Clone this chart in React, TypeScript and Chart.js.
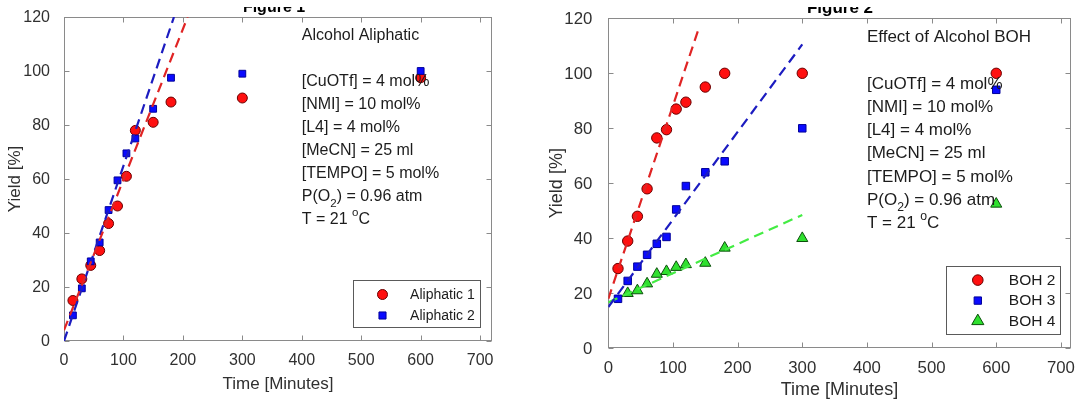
import React, { useEffect, useRef } from "react";
import { Chart, registerables } from "chart.js";
Chart.register(...registerables);

const FONT = '"Liberation Sans", Arial, Helvetica, sans-serif';
const TEXT = "#1c1c1c";
const AXIS_TEXT = "#303030";
const BOX = "#8a8a8a";

// ---------------- Figure 1 data ----------------
const fig1Title = "Figure 1";
const fig1Time = [15, 30, 45, 60, 75, 90, 105, 120, 150, 180, 300, 600];
const aliphatic1 = [15, 23, 28, 33.5, 43.5, 50, 61, 78, 81, 88.5, 90, 97.5];
const aliphatic2 = [9.5, 19.5, 29.5, 36.5, 48.5, 59.5, 69.5, 75, 86, 97.5, 99, 100];
const fitAliphatic1X = [0, 208];
const fitAliphatic1Y = [4, 120];
const fitAliphatic2X = [0, 185];
const fitAliphatic2Y = [0, 120];
const fig1Labels = ["Aliphatic 1", "Aliphatic 2"];
const fig1Notes = [
  "Alcohol Aliphatic",
  "",
  "[CuOTf] = 4 mol%",
  "[NMI] = 10 mol%",
  "[L4] = 4 mol%",
  "[MeCN] = 25 ml",
  "[TEMPO] = 5 mol%",
  "P(O_{2}) = 0.96 atm",
  "T = 21 ^{o}C",
];

// ---------------- Figure 2 data ----------------
const fig2Title = "Figure 2";
const fig2Time = [15, 30, 45, 60, 75, 90, 105, 120, 150, 180, 300, 600];
const boh2 = [29, 39, 48, 58, 76.5, 79.5, 87, 89.5, 95, 100, 100, 100];
const boh3 = [18, 24.5, 29.7, 34, 38, 40.5, 50.5, 59, 64, 68, 80, 94];
const boh4Time = [30, 45, 60, 75, 90, 105, 120, 150, 180, 300, 600];
const boh4 = [20, 21, 23.5, 27, 28, 29.5, 30.5, 31, 36.5, 40, 52.5];
const fitBoh2X = [0, 140];
const fitBoh2Y = [18, 116.4];
const fitBoh3X = [0, 300];
const fitBoh3Y = [15, 110.5];
const fitBoh4X = [0, 300];
const fitBoh4Y = [16.7, 48.5];
const fig2Labels = ["BOH 2", "BOH 3", "BOH 4"];
const fig2Notes = [
  "Effect of Alcohol BOH",
  "",
  "[CuOTf] = 4 mol%",
  "[NMI] = 10 mol%",
  "[L4] = 4 mol%",
  "[MeCN] = 25 ml",
  "[TEMPO] = 5 mol%",
  "P(O_{2}) = 0.96 atm",
  "T = 21 ^{o}C",
];

const xAxisTitle = "Time [Minutes]";
const yAxisTitle = "Yield [%]";
const xStep = 100;
const yStep = 20;

// ---------------- styles ----------------
const RED = { style: "circle", fill: "#ff1010", edge: "#6a0000" };
const BLUE = { style: "rect", fill: "#0a0aff", edge: "#00009a" };
const GREEN = { style: "triangle", fill: "#2fe02f", edge: "#0b4f0b" };

type Seg = { t: string; s: number };
function parseTex(str: string): Seg[] {
  const out: Seg[] = [];
  const re = /([_^])\{([^}]*)\}/g;
  let last = 0;
  let m: RegExpExecArray | null;
  while ((m = re.exec(str))) {
    if (m.index > last) out.push({ t: str.slice(last, m.index), s: 0 });
    out.push({ t: m[2], s: m[1] === "_" ? -1 : 1 });
    last = re.lastIndex;
  }
  if (last < str.length) out.push({ t: str.slice(last), s: 0 });
  return out;
}

function drawMarker(ctx: CanvasRenderingContext2D, style: string, x: number, y: number, r: number, fill: string, edge: string) {
  ctx.beginPath();
  if (style === "circle") {
    ctx.arc(x, y, r, 0, Math.PI * 2);
  } else if (style === "rect") {
    const s = r * Math.SQRT1_2;
    ctx.rect(x - s, y - s, 2 * s, 2 * s);
  } else {
    let a = 0;
    ctx.moveTo(x + Math.sin(a) * r, y - Math.cos(a) * r);
    a += (2 * Math.PI) / 3;
    ctx.lineTo(x + Math.sin(a) * r, y - Math.cos(a) * r);
    a += (2 * Math.PI) / 3;
    ctx.lineTo(x + Math.sin(a) * r, y - Math.cos(a) * r);
    ctx.closePath();
  }
  ctx.fillStyle = fill;
  ctx.fill();
  ctx.lineWidth = 1;
  ctx.strokeStyle = edge;
  ctx.stroke();
}

function makeDecor(spec: any) {
  return {
    id: "decor",
    beforeDatasetsDraw(chart: any) {
      const { ctx, chartArea: a, scales } = chart;
      const xs = scales.x;
      const ys = scales.y;
      ctx.save();
      ctx.strokeStyle = BOX;
      ctx.lineWidth = 1;
      const L = Math.round(a.left) + 0.5;
      const R = Math.round(a.right) - 0.5;
      const T = Math.round(a.top) + 0.5;
      const B = Math.round(a.bottom) - 0.5;
      ctx.strokeRect(L, T, R - L, B - T);
      ctx.beginPath();
      xs.ticks.forEach((t: any) => {
        const px = Math.round(xs.getPixelForValue(t.value)) + 0.5;
        ctx.moveTo(px, B);
        ctx.lineTo(px, B - 5);
        ctx.moveTo(px, T);
        ctx.lineTo(px, T + 5);
      });
      ys.ticks.forEach((t: any) => {
        const py = Math.round(ys.getPixelForValue(t.value)) + 0.5;
        ctx.moveTo(L, py);
        ctx.lineTo(L + 5, py);
        ctx.moveTo(R, py);
        ctx.lineTo(R - 5, py);
      });
      ctx.stroke();
      ctx.restore();
    },
    afterDatasetsDraw(chart: any) {
      const { ctx, chartArea: a, scales } = chart;
      const xs = scales.x;
      const ys = scales.y;
      ctx.save();
      // annotation text
      const x0 = xs.getPixelForValue(spec.noteX);
      const y0 = ys.getPixelForValue(spec.noteY);
      ctx.fillStyle = TEXT;
      ctx.textAlign = "left";
      ctx.textBaseline = "alphabetic";
      spec.notes.forEach((line: string, i: number) => {
        const by = y0 + i * spec.noteStep;
        let cx = x0;
        parseTex(line).forEach((seg) => {
          if (seg.s === 0) {
            ctx.font = `${spec.noteSize}px ${FONT}`;
            ctx.fillText(seg.t, cx, by);
            cx += ctx.measureText(seg.t).width;
          } else {
            const fs = spec.noteSize * 0.72;
            ctx.font = `${fs}px ${FONT}`;
            const off = seg.s < 0 ? spec.noteSize * 0.36 : -spec.noteSize * 0.5;
            ctx.fillText(seg.t, cx, by + off);
            cx += ctx.measureText(seg.t).width;
          }
        });
      });
      // legend
      const lg = spec.legend;
      const n = spec.series.length;
      const h = lg.top + (n - 1) * lg.row + lg.bottom;
      const bx = Math.round(a.right - lg.offR - lg.w) + 0.5;
      const by = Math.round(a.bottom - lg.offB - h) + 0.5;
      ctx.fillStyle = "#ffffff";
      ctx.fillRect(bx, by, lg.w, h);
      ctx.strokeStyle = "#5a5a5a";
      ctx.lineWidth = 1;
      ctx.strokeRect(bx, by, Math.round(lg.w), Math.round(h));
      spec.series.forEach((s: any, i: number) => {
        const cy = by + lg.top + i * lg.row;
        drawMarker(ctx, s.st.style, bx + lg.mx, cy, s.lr, s.st.fill, s.st.edge);
        ctx.fillStyle = TEXT;
        ctx.font = `${lg.size}px ${FONT}`;
        ctx.textBaseline = "middle";
        ctx.textAlign = "left";
        ctx.fillText(s.label, bx + lg.tx, cy + 0.5);
      });
      // clipped figure title
      ctx.beginPath();
      ctx.rect(0, spec.figClip, chart.width, chart.height);
      ctx.clip();
      ctx.fillStyle = "#000000";
      ctx.font = `bold ${spec.figSize}px ${FONT}`;
      ctx.textAlign = "center";
      ctx.textBaseline = "alphabetic";
      ctx.fillText(spec.figTitle, spec.figX, spec.figBase);
      ctx.restore();
    },
  };
}

function toPts(xs: number[], ys: number[]) {
  return xs.map((x, i) => ({ x, y: ys[i] }));
}

function makeConfig(spec: any): any {
  const datasets: any[] = [];
  spec.fits.forEach((f: any) => {
    datasets.push({
      type: "scatter",
      data: toPts(f.x, f.y),
      showLine: true,
      borderColor: f.color,
      borderWidth: 2.2,
      borderDash: [10, 6],
      pointRadius: 0,
      fill: false,
      order: 0,
    });
  });
  spec.series.forEach((s: any, i: number) => {
    datasets.push({
      type: "scatter",
      label: s.label,
      data: toPts(s.x, s.y),
      pointStyle: s.st.style,
      pointRadius: s.r,
      pointBackgroundColor: s.st.fill,
      pointBorderColor: s.st.edge,
      pointBorderWidth: 1,
      showLine: false,
      order: spec.series.length - i,
    });
  });
  return {
    type: "scatter",
    data: { datasets },
    options: {
      responsive: false,
      animation: false,
      events: [],
      layout: { padding: { top: spec.padTop, right: spec.padRight, left: 0, bottom: 0 } },
      plugins: { legend: { display: false }, tooltip: { enabled: false } },
      scales: {
        x: {
          type: "linear",
          min: 0,
          max: spec.xMax,
          afterFit: (s: any) => {
            s.height = spec.xAxisH;
          },
          ticks: {
            stepSize: xStep,
            includeBounds: false,
            padding: spec.xTickPad,
            color: AXIS_TEXT,
            font: { family: FONT, size: spec.tickSize },
            maxRotation: 0,
            autoSkip: false,
          },
          grid: { display: false },
          border: { display: false },
          title: {
            display: true,
            text: xAxisTitle,
            color: AXIS_TEXT,
            font: { family: FONT, size: spec.titleSize },
            padding: { top: 0, bottom: spec.xTitlePad },
          },
        },
        y: {
          type: "linear",
          min: 0,
          max: spec.yMax,
          afterFit: (s: any) => {
            s.width = spec.yAxisW;
          },
          ticks: {
            stepSize: yStep,
            includeBounds: false,
            padding: spec.yTickPad,
            labelOffset: 1,
            color: AXIS_TEXT,
            font: { family: FONT, size: spec.tickSize },
            autoSkip: false,
          },
          grid: { display: false },
          border: { display: false },
          title: {
            display: true,
            text: yAxisTitle,
            color: AXIS_TEXT,
            font: { family: FONT, size: spec.titleSize },
            padding: { top: spec.yTitlePad, bottom: 0 },
          },
        },
      },
    },
    plugins: [makeDecor(spec)],
  };
}

const spec1 = {
  width: 540,
  left: 0,
  xMax: 720,
  yMax: 120,
  padTop: 17,
  padRight: 48,
  yAxisW: 64,
  xAxisH: 61,
  tickSize: 16,
  xTickPad: 2,
  yTickPad: 6,
  titleSize: 17,
  xTitlePad: 7.8,
  yTitlePad: 4.8,
  noteSize: 16,
  noteX: 400,
  noteY: 111.3,
  noteStep: 23,
  notes: fig1Notes,
  figTitle: fig1Title,
  figX: 274,
  figSize: 16,
  figBase: 12,
  figClip: 7,
  legend: { w: 127, top: 14, row: 21, bottom: 11.7, offR: 12, offB: 14.3, mx: 29, tx: 56.6, size: 14 },
  series: [
    { label: fig1Labels[0], x: fig1Time, y: aliphatic1, st: RED, r: 5, lr: 5 },
    { label: fig1Labels[1], x: fig1Time, y: aliphatic2, st: BLUE, r: 4.8, lr: 5 },
  ],
  fits: [
    { x: fitAliphatic1X, y: fitAliphatic1Y, color: "#e02424" },
    { x: fitAliphatic2X, y: fitAliphatic2Y, color: "#1c1cc0" },
  ],
};

const spec2 = {
  width: 538,
  left: 540,
  xMax: 715,
  yMax: 120,
  padTop: 18.3,
  padRight: 7.3,
  yAxisW: 68.3,
  xAxisH: 53.7,
  tickSize: 16.8,
  xTickPad: 2,
  yTickPad: 8,
  titleSize: 18,
  xTitlePad: 0.7,
  yTitlePad: 6.7,
  noteSize: 17,
  noteX: 400,
  noteY: 111.4,
  noteStep: 23.3,
  notes: fig2Notes,
  figTitle: fig2Title,
  figX: 300,
  figSize: 17,
  figBase: 12.5,
  figClip: 7,
  legend: { w: 114, top: 13.6, row: 20.5, bottom: 13.7, offR: 10.7, offB: 14, mx: 31.3, tx: 62.3, size: 15.5 },
  series: [
    { label: fig2Labels[0], x: fig2Time, y: boh2, st: RED, r: 5.2, lr: 5.3 },
    { label: fig2Labels[1], x: fig2Time, y: boh3, st: BLUE, r: 5.3, lr: 5.2 },
    { label: fig2Labels[2], x: boh4Time, y: boh4, st: GREEN, r: 6.4, lr: 7 },
  ],
  fits: [
    { x: fitBoh2X, y: fitBoh2Y, color: "#e02424" },
    { x: fitBoh3X, y: fitBoh3Y, color: "#1c1cc0" },
    { x: fitBoh4X, y: fitBoh4Y, color: "#44ec44" },
  ],
};

function Panel({ spec }: { spec: any }) {
  const ref = useRef<HTMLCanvasElement>(null);
  useEffect(() => {
    if (!ref.current) return;
    const chart = new Chart(ref.current, makeConfig(spec));
    return () => chart.destroy();
  }, [spec]);
  return (
    <canvas
      ref={ref}
      width={spec.width}
      height={402}
      style={{ position: "absolute", left: spec.left, top: 0, width: spec.width, height: 402 }}
    />
  );
}

export default function App() {
  return (
    <div style={{ position: "absolute", left: 0, top: 0, width: 1078, height: 402, background: "#ffffff", overflow: "hidden" }}>
      <Panel spec={spec1} />
      <Panel spec={spec2} />
    </div>
  );
}
